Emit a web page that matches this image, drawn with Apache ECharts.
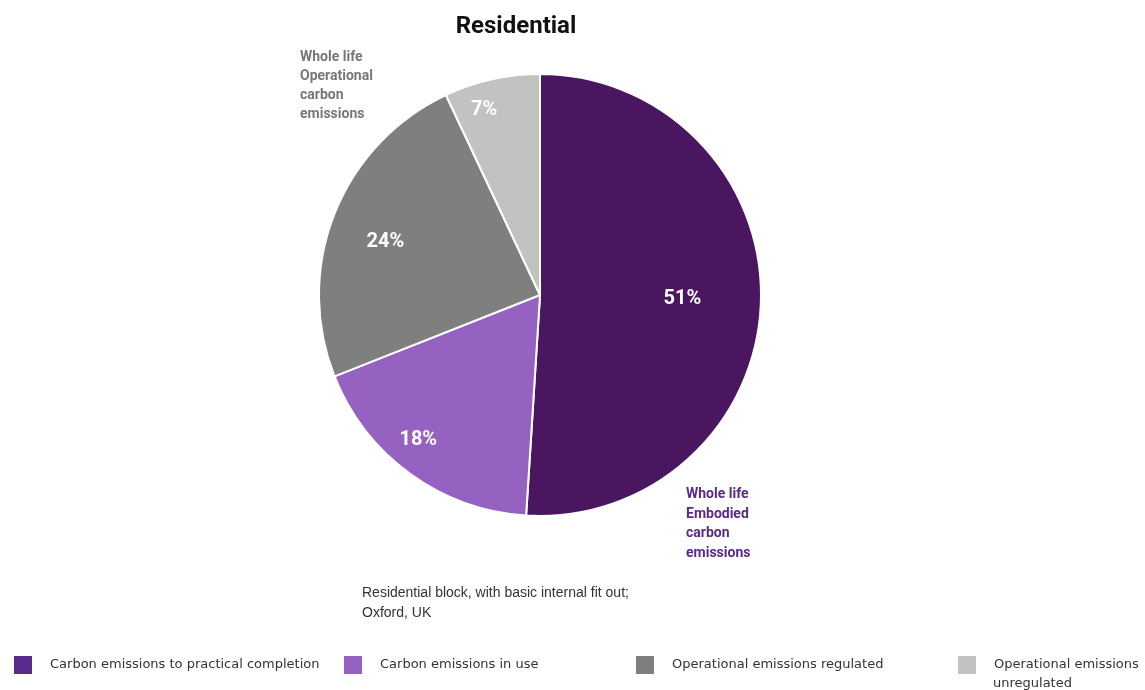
<!DOCTYPE html>
<html><head><meta charset="utf-8">
<script src="https://cdn.jsdelivr.net/npm/echarts@6/dist/echarts.min.js"></script>
<style>html,body{margin:0;padding:0;background:#fff}#c{width:1145px;height:690px}</style>
</head><body><div id="c"></div>
<script>
var categories = ['Carbon emissions to practical completion','Carbon emissions in use','Operational emissions regulated','Operational emissions unregulated'];
var values = [51, 18, 24, 7];
var colors = ['#4b1660','#9562c2','#7f7f7f','#c2c2c2'];
var legendColors = ['#5a2a8c','#9562c2','#7f7f7f','#c2c2c2'];
var legendLabels = ['Carbon emissions to practical completion','Carbon emissions in use','Operational emissions regulated','Operational emissions'];
var legendSecondLine = 'unregulated';
var labelOffsets = [[29,0],[-55,53],[-49,-11],[-31,-74]];
var legendLefts = [12, 342, 634, 956];

var chart = echarts.init(document.getElementById('c'), null, {renderer:'canvas'});
var data = categories.map(function(c,i){
  return {name:c, value:values[i], itemStyle:{color:colors[i]}, label:{offset:labelOffsets[i]}};
});
var legends = categories.map(function(c,i){
  return {
    left: legendLefts[i], top: 654, orient:'horizontal', padding:0,
    data:[{name:c, icon:'rect', itemStyle:{color:legendColors[i]}}], itemWidth:20, itemHeight:20,
    selectedMode:false,
    formatter: function(){ return legendLabels[i]; },
    textStyle:{fontFamily:'DejaVu Sans', fontSize:13, color:'#333', padding:[0,0,0,12]}
  };
});
chart.setOption({
  animation:false,
  title:[
    {text:'Residential', left:516, top:15, padding:0, textAlign:'center', textStyle:{fontFamily:'Roboto', fontWeight:'bold', fontSize:24, color:'#111'}},
    {text:'Whole life\nOperational\ncarbon\nemissions', left:300, top:48, padding:0, textStyle:{fontFamily:'Roboto', fontWeight:'bold', fontSize:14, lineHeight:19, color:'#777'}},
    {text:'Whole life\nEmbodied\ncarbon\nemissions', left:686, top:485, padding:0, textStyle:{fontFamily:'Roboto', fontWeight:'bold', fontSize:14, lineHeight:19.5, color:'#5a2a86'}},
    {text:'Residential block, with basic internal fit out;\nOxford, UK', left:362, top:583, padding:0, textStyle:{fontFamily:'Liberation Sans', fontWeight:'normal', fontSize:14, lineHeight:20, color:'#333'}},
    {text:legendSecondLine, left:993, top:677, padding:0, textStyle:{fontFamily:'DejaVu Sans', fontWeight:'normal', fontSize:13, color:'#333'}}
  ],
  legend: legends,
  series:[{
    type:'pie', center:[540,295], radius:221, startAngle:90, clockwise:true,
    itemStyle:{borderColor:'#fff', borderWidth:2},
    label:{show:true, position:'inside', formatter:'{c}%', color:'#fff', fontFamily:'Roboto', fontWeight:'bold', fontSize:20},
    labelLine:{show:false},
    emphasis:{disabled:true},
    data:data
  }]
});
</script></body></html>
